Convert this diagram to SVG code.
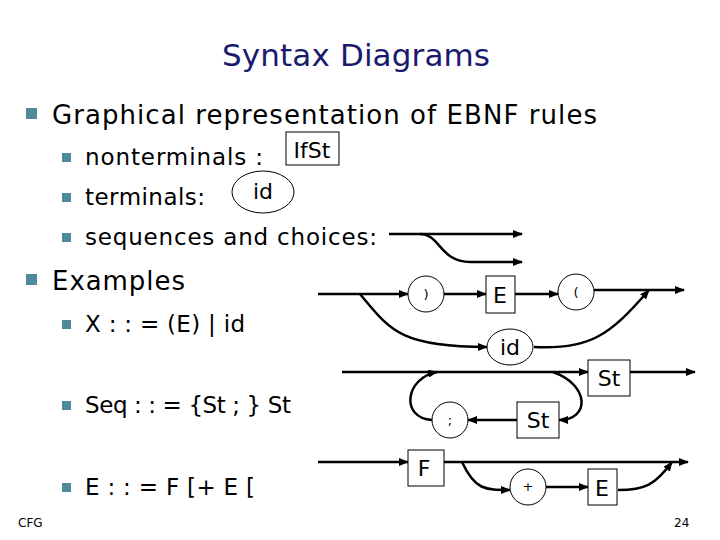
<svg xmlns="http://www.w3.org/2000/svg" width="720" height="540" viewBox="0 0 720 540">
<defs>
<marker id="a" markerWidth="10" markerHeight="8" refX="9" refY="4" orient="auto" markerUnits="userSpaceOnUse"><path d="M0,0 L10,4 L0,8 z" fill="#000"/></marker>
<style>
text{font-family:"DejaVu Sans",Verdana,sans-serif;fill:#000}
.t{font-size:26px}.s{font-size:23px}.n{font-size:22px}
.b1{fill:#4f8a9c}
.c path,.c line{stroke:#000;stroke-width:2.5;fill:none}
.sh{fill:#fff;stroke:#000;stroke-width:1}
</style>
</defs>
<rect width="720" height="540" fill="#fff"/>
<text x="356" y="66" text-anchor="middle" style="font-size:31px;fill:#1a1a6e" textLength="268">Syntax Diagrams</text>
<rect class="b1" x="26" y="108" width="11" height="11"/>
<text class="t" x="52" y="124" textLength="545">Graphical representation of EBNF rules</text>
<rect class="b1" x="62" y="153" width="9" height="9"/>
<text class="s" x="85" y="165" textLength="178">nonterminals :</text>
<rect class="b1" x="62" y="193" width="9" height="9"/>
<text class="s" x="85" y="205" textLength="120">terminals:</text>
<rect class="b1" x="62" y="233" width="9" height="9"/>
<text class="s" x="85" y="245" textLength="292">sequences and choices:</text>
<rect class="b1" x="26" y="274" width="11" height="11"/>
<text class="t" x="52" y="290" textLength="133">Examples</text>
<rect class="b1" x="62" y="320" width="9" height="9"/>
<text class="s" x="85" y="332" textLength="160">X : : = (E) | id</text>
<rect class="b1" x="62" y="401" width="9" height="9"/>
<text class="s" x="85" y="413" textLength="206">Seq : : = {St ; } St</text>
<rect class="b1" x="62" y="483" width="9" height="9"/>
<text class="s" x="85" y="495" textLength="170">E : : = F [+ E [</text>
<text x="18" y="527" style="font-size:12px">CFG</text>
<text x="674" y="527" style="font-size:12px">24</text>
<g id="ifst"><rect class="sh" x="286" y="132" width="53" height="33"/><text class="n" x="312" y="158" text-anchor="middle">IfSt</text></g>
<g id="idex"><ellipse class="sh" cx="263" cy="192" rx="31" ry="21"/><text class="n" x="263" y="199" text-anchor="middle">id</text></g>
<g class="c" id="connectors">
<line x1="389" y1="234" x2="522" y2="234" marker-end="url(#a)"/>
<path d="M420,234 C440,234 440,262 470,262 L522,262" marker-end="url(#a)"/>
<line x1="318" y1="294" x2="408" y2="294" marker-end="url(#a)"/>
<line x1="444" y1="294" x2="486" y2="294" marker-end="url(#a)"/>
<line x1="515" y1="294" x2="558" y2="294" marker-end="url(#a)"/>
<line x1="594" y1="290" x2="684" y2="290" marker-end="url(#a)"/>
<path d="M360,294 C390,330 400,347 487,347" marker-end="url(#a)"/>
<path d="M534,347 C590,350 610,335 649,290" marker-end="url(#a)"/>
<line x1="342" y1="372" x2="588" y2="372" marker-end="url(#a)"/>
<line x1="630" y1="372" x2="695" y2="372" marker-end="url(#a)"/>
<path d="M553,372 C590,385 590,420 559,420" marker-end="url(#a)"/>
<line x1="517" y1="420" x2="468" y2="420" marker-end="url(#a)"/>
<path d="M432,420 C400,418 405,378 437,372" marker-end="url(#a)"/>
<line x1="318" y1="462" x2="408" y2="462" marker-end="url(#a)"/>
<line x1="444" y1="462" x2="688" y2="462" marker-end="url(#a)"/>
<path d="M462,462 C475,490 485,490 510,490" marker-end="url(#a)"/>
<line x1="546" y1="487" x2="588" y2="487" marker-end="url(#a)"/>
<path d="M618,490 C645,490 655,485 672,462" marker-end="url(#a)"/>
</g>
<g id="rp"><circle class="sh" cx="426" cy="294" r="18"/><text x="426" y="299" text-anchor="middle" style="font-size:13px">)</text></g>
<g id="E1"><rect class="sh" x="486" y="276" width="29" height="37"/><text class="n" x="500" y="303" text-anchor="middle">E</text></g>
<g id="lp"><circle class="sh" cx="576" cy="292" r="18"/><text x="576" y="297" text-anchor="middle" style="font-size:13px">(</text></g>
<g id="id2"><ellipse class="sh" cx="510" cy="347" rx="23" ry="18"/><text class="n" x="510" y="355" text-anchor="middle">id</text></g>
<g id="St1"><rect class="sh" x="588" y="360" width="42" height="36"/><text class="n" x="609" y="386" text-anchor="middle">St</text></g>
<g id="St2"><rect class="sh" x="517" y="402" width="42" height="36"/><text class="n" x="538" y="428" text-anchor="middle">St</text></g>
<g id="semi"><circle class="sh" cx="450" cy="420" r="18"/><text x="450" y="425" text-anchor="middle" style="font-size:13px">;</text></g>
<g id="F"><rect class="sh" x="408" y="450" width="36" height="36"/><text class="n" x="424" y="476" text-anchor="middle">F</text></g>
<g id="plus"><circle class="sh" cx="528" cy="487" r="18"/><text x="528" y="491" text-anchor="middle" style="font-size:13px">+</text></g>
<g id="E2"><rect class="sh" x="588" y="469" width="29" height="36"/><text class="n" x="602" y="496" text-anchor="middle">E</text></g>
</svg>
